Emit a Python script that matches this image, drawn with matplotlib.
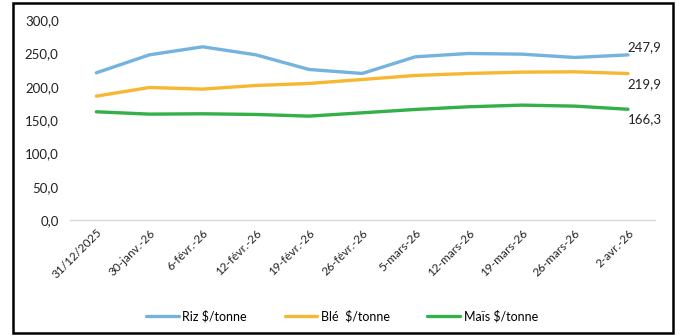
import matplotlib
matplotlib.use('Agg')
import matplotlib.pyplot as plt
from matplotlib.patches import Rectangle

# Dates (categories)
dates = ['31/12/2025', '30-janv.-26', '6-févr.-26', '12-févr.-26', '19-févr.-26',
         '26-févr.-26', '5-mars-26', '12-mars-26', '19-mars-26', '26-mars-26', '2-avr.-26']

# Prices in $/tonne
riz = [221, 248, 260, 248, 226, 220, 245, 250, 249, 244, 247.9]
ble = [186, 199, 196.5, 202, 205, 211, 217, 220, 222, 222.5, 219.9]
mais = [162.5, 159, 159.5, 158.5, 156, 161, 166, 170, 172.5, 171, 166.3]

y_ticks = [0, 50, 100, 150, 200, 250, 300]

plt.rcParams['font.family'] = ['Lato', 'DejaVu Sans']

fig = plt.figure(figsize=(6.84, 3.36), dpi=100)
ax = fig.add_axes([0.102, 0.345, 0.855, 0.595])

x = list(range(len(dates)))
ax.plot(x, riz, color='#74b3de', lw=2.4, label='Riz $/tonne', solid_capstyle='round')
ax.plot(x, ble, color='#f7b731', lw=2.4, label='Blé  $/tonne', solid_capstyle='round')
ax.plot(x, mais, color='#33b047', lw=2.4, label='Maïs $/tonne', solid_capstyle='round')

# end-of-line value labels
def fmt(v):
    return f'{v:.1f}'.replace('.', ',')

ax.annotate(fmt(riz[-1]), (x[-1], riz[-1]), xytext=(12, 1), textcoords='offset points',
            ha='center', va='bottom', fontsize=9.5, color='#222222')
ax.annotate(fmt(ble[-1]), (x[-1], ble[-1]), xytext=(12, -3), textcoords='offset points',
            ha='center', va='top', fontsize=9.5, color='#222222')
ax.annotate(fmt(mais[-1]), (x[-1], mais[-1]), xytext=(12, -3), textcoords='offset points',
            ha='center', va='top', fontsize=9.5, color='#222222')

ax.set_xlim(-0.5, len(dates) - 0.5)
ax.set_ylim(0, 300)
ax.set_yticks(y_ticks)
ax.set_yticklabels([fmt(v) for v in y_ticks], fontsize=9.5, color='#222222')
ax.set_xticks(x)
ax.set_xticklabels(dates, rotation=45, ha='right', rotation_mode='anchor',
                   fontsize=8.5, color='#222222')
ax.tick_params(axis='y', length=0, pad=8)
ax.tick_params(axis='x', length=0, pad=5)

for side in ['top', 'right', 'left']:
    ax.spines[side].set_visible(False)
ax.spines['bottom'].set_color('#d9d9d9')
ax.spines['bottom'].set_linewidth(1.0)

fig.legend(loc='center', bbox_to_anchor=(0.5, 0.06), ncol=3, frameon=False,
           fontsize=9, handlelength=2.6, columnspacing=3.0, handletextpad=0.3)

# outer chart border
fig.patches.append(Rectangle((13 / 684, 3 / 336), 660 / 684, 330 / 336,
                             transform=fig.transFigure, fill=False,
                             edgecolor='black', linewidth=1.8))

fig.savefig('out.png', dpi=100)
plt.close(fig)
